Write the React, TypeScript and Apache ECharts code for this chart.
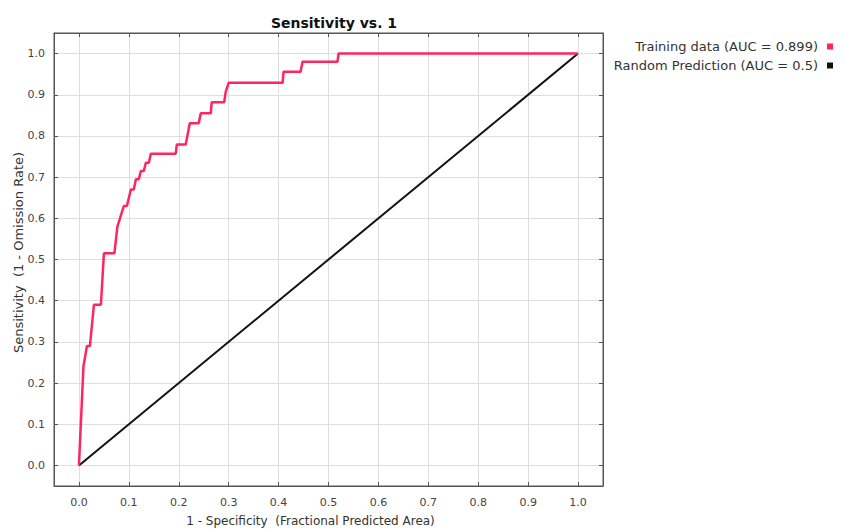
import React, { useEffect, useRef } from "react";
import * as echarts from "echarts";

const title = "Sensitivity vs. 1";
const xAxisName = "1 - Specificity  (Fractional Predicted Area)";
const yAxisName = "Sensitivity  (1 - Omission Rate)";
const tickValues = [0, 0.1, 0.2, 0.3, 0.4, 0.5, 0.6, 0.7, 0.8, 0.9, 1.0];
const trainingName = "Training data (AUC = 0.899)";
const randomName = "Random Prediction (AUC = 0.5)";

const trainingCurve: [number, number][] = [
  [0, 0], [0.009, 0.24], [0.016, 0.29], [0.022, 0.29], [0.03, 0.39], [0.044, 0.39],
  [0.05, 0.515], [0.071, 0.515], [0.077, 0.58], [0.09, 0.63], [0.096, 0.63],
  [0.104, 0.67], [0.11, 0.67], [0.114, 0.695], [0.12, 0.695], [0.124, 0.715],
  [0.13, 0.715], [0.134, 0.735], [0.14, 0.735], [0.144, 0.757], [0.194, 0.757],
  [0.196, 0.779], [0.214, 0.779], [0.222, 0.831], [0.24, 0.831], [0.244, 0.855],
  [0.264, 0.855], [0.266, 0.882], [0.291, 0.882], [0.294, 0.907], [0.3, 0.929],
  [0.408, 0.929], [0.41, 0.956], [0.444, 0.956], [0.448, 0.98], [0.518, 0.98],
  [0.52, 1.0], [1.0, 1.0],
];
const randomLine: [number, number][] = [[0, 0], [1, 1]];

const RED = "#ff2560";
const BLACK = "#111111";
const FONT = "DejaVu Sans";

export default function App() {
  const ref = useRef<HTMLDivElement>(null);
  useEffect(() => {
    document.body.style.margin = "0";
    const chart = echarts.init(ref.current!, null, { renderer: "svg" });
    const tickCommon = { show: true, inside: true, length: 4, lineStyle: { color: "#555" }, customValues: tickValues };
    const splitLine = { show: true, lineStyle: { color: "#dedede", width: 1 } };
    const label = {
      color: "#444", fontSize: 11, fontFamily: FONT,
      customValues: tickValues,
      formatter: (v: number) => v.toFixed(1),
    };
    const axisLine = { show: true, onZero: false, lineStyle: { color: "#555" } };
    chart.setOption({
      animation: false,
      backgroundColor: "#ffffff",
      title: {
        text: title, left: 329, top: 11, textAlign: "center",
        textStyle: { fontSize: 14, fontWeight: "bold", color: "#111", fontFamily: FONT },
      },
      legend: {
        orient: "vertical", right: 7, top: 35, align: "right",
        itemWidth: 6, itemHeight: 6, itemGap: 6, icon: "rect",
        textStyle: { fontSize: 13, color: "#333", fontFamily: FONT, padding: [0, 4, 0, 0] },
        data: [trainingName, randomName],
      },
      grid: {
        left: 54, right: 242, top: 33, bottom: 45, outerBoundsMode: "none",
        show: true, borderColor: "#555", borderWidth: 1, backgroundColor: "#fff",
      },
      xAxis: [
        {
          type: "value", min: -0.05, max: 1.05,
          name: xAxisName, nameLocation: "middle", nameGap: 29,
          nameTextStyle: { fontSize: 12, color: "#333", fontFamily: FONT, padding: [0, 36, 0, 0] },
          axisLine, axisTick: tickCommon, axisLabel: { ...label, margin: 11 }, splitLine,
        },
        {
          type: "value", min: -0.05, max: 1.05, position: "top",
          axisLine, axisTick: tickCommon, axisLabel: { show: false }, splitLine: { show: false },
        },
      ],
      yAxis: [
        {
          type: "value", min: -0.05, max: 1.05,
          name: yAxisName, nameLocation: "middle", nameGap: 29, nameMoveOverlap: false,
          nameTextStyle: { fontSize: 13, color: "#333", fontFamily: FONT, padding: [0, 0, 0, 14] },
          axisLine, axisTick: tickCommon, axisLabel: { ...label, margin: 9 }, splitLine,
        },
        {
          type: "value", min: -0.05, max: 1.05, position: "right",
          axisLine, axisTick: tickCommon, axisLabel: { show: false }, splitLine: { show: false },
        },
      ],
      series: [
        {
          name: randomName, type: "line", data: randomLine, showSymbol: false,
          lineStyle: { color: BLACK, width: 2 }, itemStyle: { color: BLACK }, z: 2,
        },
        {
          name: trainingName, type: "line", data: trainingCurve, showSymbol: false,
          lineStyle: { color: RED, width: 2.5 }, itemStyle: { color: RED }, z: 3,
        },
      ],
    });
    return () => chart.dispose();
  }, []);
  return <div ref={ref} style={{ width: 845, height: 531 }} />;
}
